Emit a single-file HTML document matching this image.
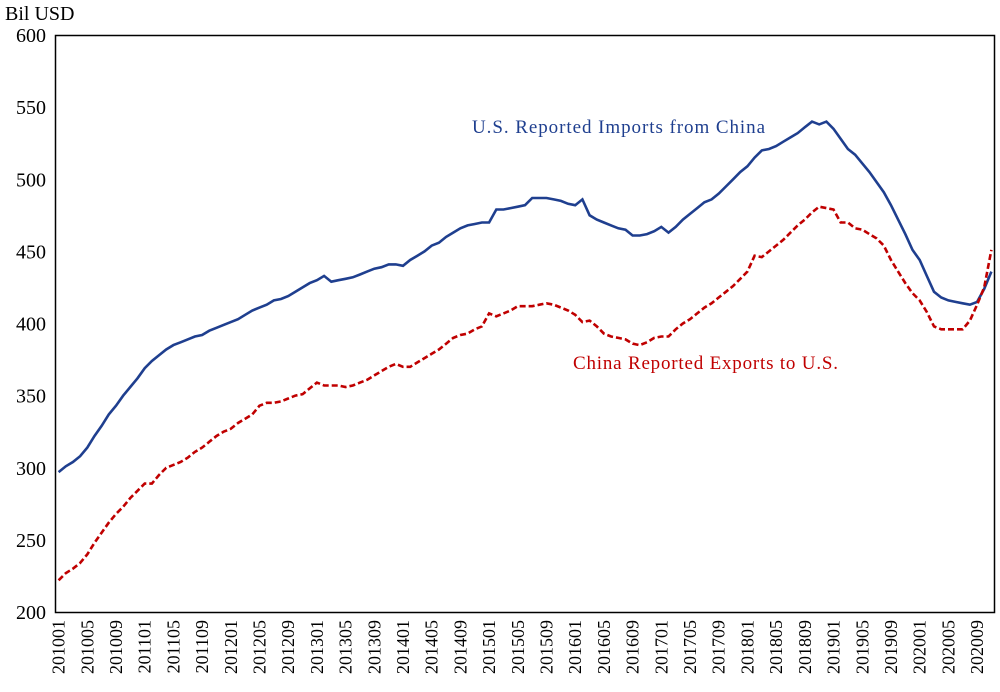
<!DOCTYPE html>
<html><head><meta charset="utf-8"><style>
body{margin:0;background:#fff}
svg{display:block;font-family:"Liberation Serif",serif}
</style></head><body>
<svg id="chart" width="1000" height="692" viewBox="0 0 1000 692">
<text x="5" y="20" font-size="20">Bil USD</text>
<g id="yticks"></g><g id="xticks"></g>
<rect x="55.5" y="35.5" width="939" height="577" fill="none" stroke="#000" stroke-width="1.5"/>
<g id="series"></g>
<text x="472" y="133" font-size="19" fill="#1f3f8f" textLength="293" lengthAdjust="spacing">U.S. Reported Imports from China</text>
<text x="573" y="369" font-size="19" fill="#c00000" textLength="265" lengthAdjust="spacing">China Reported Exports to U.S.</text>
</svg>
<script>
const yTicks=[200,250,300,350,400,450,500,550,600];
const imports=[297,301,304,308,314,322,329,337,343,350,356,362,369,374,378,382,385,387,389,391,392,395,397,399,401,403,406,409,411,413,416,417,419,422,425,428,430,433,429,430,431,432,434,436,438,439,441,441,440,444,447,450,454,456,460,463,466,468,469,470,470,479,479,480,481,482,487,487,487,486,485,483,482,486,475,472,470,468,466,465,461,461,462,464,467,463,467,472,476,480,484,486,490,495,500,505,509,515,520,521,523,526,529,532,536,540,538,540,535,528,521,517,511,505,498,491,482,472,462,451,444,433,422,418,416,415,414,413,415,424,436];
const exports_=[222,227,230,234,240,248,255,262,268,273,279,284,289,289,295,300,302,304,307,311,314,318,322,325,327,331,334,337,343,345,345,346,348,350,351,355,359,357,357,357,356,357,359,361,364,367,370,372,370,370,373,376,379,382,386,390,392,393,396,398,407,405,407,409,412,412,412,413,414,413,411,409,406,401,402,398,393,391,390,389,386,385,387,390,391,391,396,400,403,407,411,414,418,422,426,431,436,447,446,450,454,458,463,468,472,477,481,480,479,470,470,466,465,462,459,454,444,436,428,421,416,408,398,396,396,396,396,402,413,425,451];
const months=[];
for(let y=2010;y<=2020;y++)for(let m=1;m<=12;m++){if(months.length<imports.length)months.push(y+String(m).padStart(2,'0'));}
const L=55,R=995,T=35,B=612,ns='http://www.w3.org/2000/svg';
const step=(R-L)/months.length;
const xs=i=>L+step*(i+0.5);
const ys=v=>B-(v-200)/400*(B-T);
const yg=document.getElementById('yticks');
yTicks.forEach(v=>{const t=document.createElementNS(ns,'text');


t.setAttribute('x',46);t.setAttribute('y',ys(v)+7);t.setAttribute('text-anchor','end');t.setAttribute('font-size','20');t.textContent=v;yg.appendChild(t);});
const xg=document.getElementById('xticks');
months.forEach((m,i)=>{if(i%4)return;const t=document.createElementNS(ns,'text');


const x=xs(i)+6;t.setAttribute('transform','translate('+x+',620) rotate(-90)');t.setAttribute('text-anchor','end');t.setAttribute('font-size','18');t.textContent=m;xg.appendChild(t);});
const sg=document.getElementById('series');
function line(d,col,dash,name){const p=document.createElementNS(ns,'path');


p.setAttribute('d',d.map((v,i)=>(i?'L':'M')+xs(i).toFixed(1)+','+ys(v).toFixed(1)).join(''));
p.setAttribute('fill','none');p.setAttribute('stroke',col);p.setAttribute('stroke-width','2.6');if(dash)p.setAttribute('stroke-dasharray',dash);sg.appendChild(p);}
line(imports,'#1f3f8f',null,'imports-line');
line(exports_,'#c00000','6 3','exports-line');
</script>
</body></html>
